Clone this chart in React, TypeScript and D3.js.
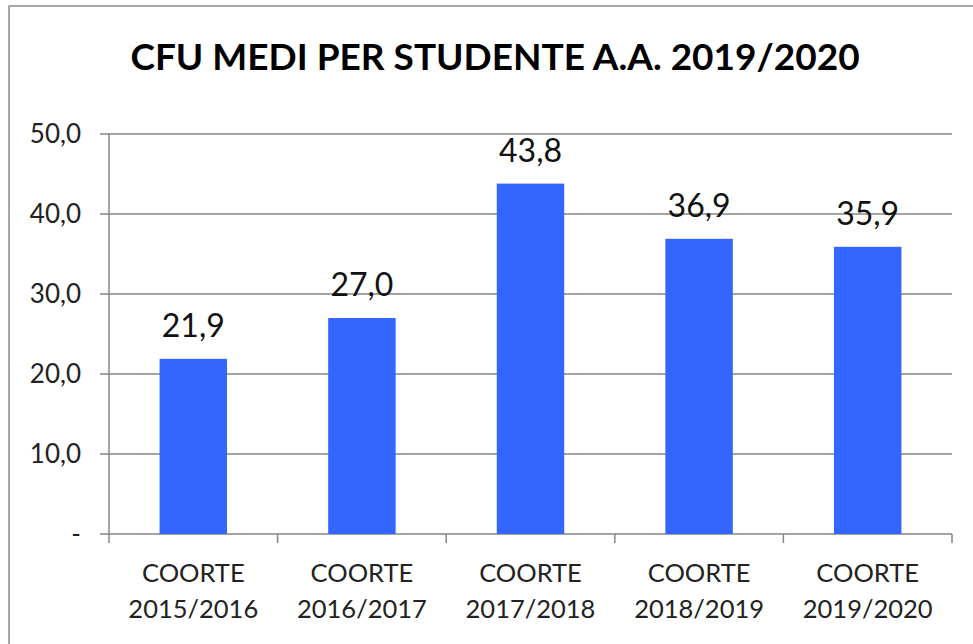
import React from "react";
import * as d3 from "d3";

const categories = ["COORTE 2015/2016", "COORTE 2016/2017", "COORTE 2017/2018", "COORTE 2018/2019", "COORTE 2019/2020"];
const values = [21.9, 27.0, 43.8, 36.9, 35.9];
const yTicks = [0, 10, 20, 30, 40, 50];
const title = "CFU MEDI PER STUDENTE A.A. 2019/2020";

const W = 973, H = 644;
const left = 109, right = 952, top = 134, bottom = 534;
const FONT = "Lato, 'Open Sans', sans-serif";

const fmt = (v: number) => (v === 0 ? "-" : d3.format(".1f")(v).replace(".", ","));

export default function App() {
  const x = d3.scaleBand<string>().domain(categories).range([left, right]).paddingInner(0).paddingOuter(0);
  const y = d3.scaleLinear().domain([0, 50]).range([bottom, top]);
  const bw = x.bandwidth() * 0.4;
  const grid = "#868686";
  return (
    <svg width={W} height={H} style={{ position: "absolute", left: 0, top: 0 }}>
      <rect x={0} y={0} width={W} height={H} fill="#fff" />
      <rect x={9} y={6} width={W + 20} height={H + 20} fill="none" stroke="#8a8a8a" strokeWidth={1.5} />
      <text x={495} y={70} textAnchor="middle" fontFamily={FONT} fontWeight="bold" fontSize={37} fill="#000">{title}</text>
      {yTicks.map((t) => (
        <g key={t}>
          <line x1={100} x2={right} y1={y(t)} y2={y(t)} stroke={grid} strokeWidth={1.5} />
          <text x={81} y={y(t) + 9} textAnchor="end" fontFamily={FONT} fontSize={26} fill="#222">{fmt(t)}</text>
        </g>
      ))}
      <line x1={left} x2={left} y1={top} y2={bottom + 9} stroke={grid} strokeWidth={1.5} />
      {categories.map((c, i) => (
        <line key={"t" + i} x1={(x(c) as number) + x.bandwidth()} x2={(x(c) as number) + x.bandwidth()} y1={bottom} y2={bottom + 9} stroke={grid} strokeWidth={1.5} />
      ))}
      {categories.map((c, i) => {
        const cx = (x(c) as number) + x.bandwidth() / 2;
        const [l1, l2] = c.split(" ");
        return (
          <g key={c}>
            <rect x={cx - bw / 2} y={y(values[i])} width={bw} height={bottom - y(values[i])} fill="#3366ff" />
            <text x={cx} y={y(values[i]) - 22} textAnchor="middle" fontFamily={FONT} fontSize={32} fill="#111">{fmt(values[i])}</text>
            <text x={cx} y={582} textAnchor="middle" fontFamily={FONT} fontSize={25.5} fill="#222">{l1}</text>
            <text x={cx} y={618} textAnchor="middle" fontFamily={FONT} fontSize={25.5} fill="#222">{l2}</text>
          </g>
        );
      })}
    </svg>
  );
}
